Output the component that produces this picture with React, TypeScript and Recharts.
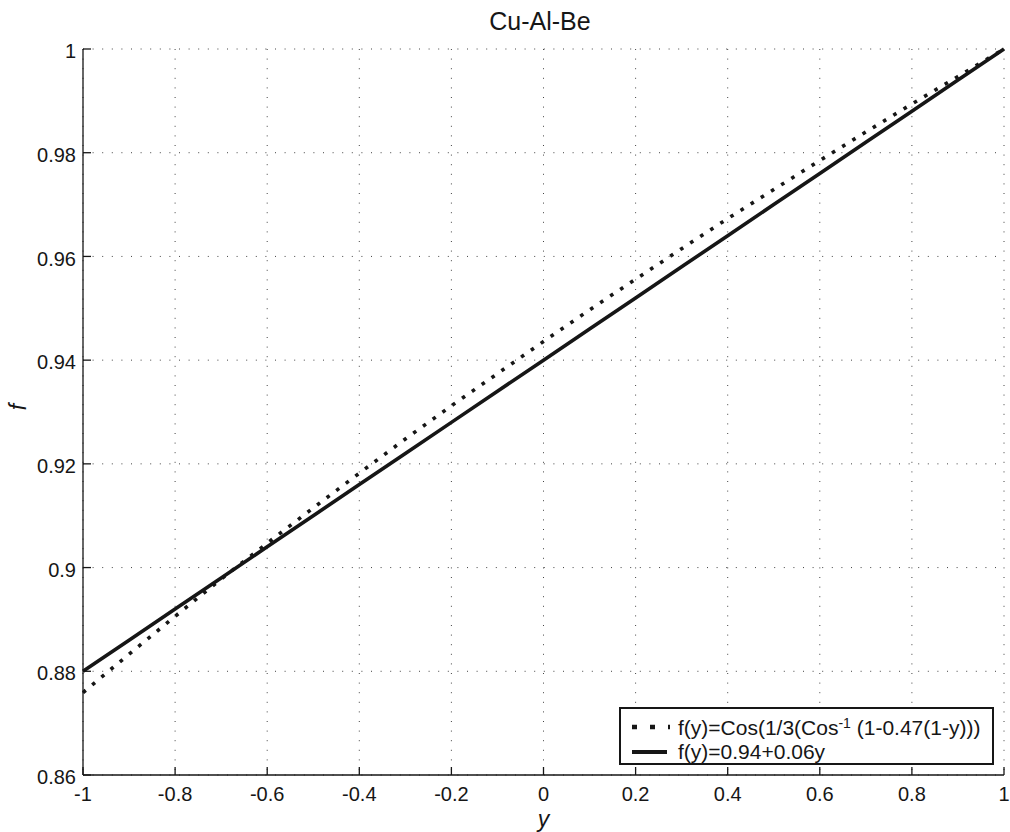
import { CartesianGrid, Legend, Line, LineChart, XAxis, YAxis } from "recharts";

const yValues = [-1, -0.9, -0.8, -0.7, -0.6, -0.5, -0.4, -0.3, -0.2, -0.1, 0, 0.1, 0.2, 0.3, 0.4, 0.5, 0.6, 0.7, 0.8, 0.9, 1];
const fCos = [0.8759, 0.8833, 0.8906, 0.8978, 0.9047, 0.9115, 0.9182, 0.9248, 0.9312, 0.9374, 0.9436, 0.9497, 0.9556, 0.9615, 0.9673, 0.9729, 0.9785, 0.984, 0.9894, 0.9947, 1.0];
const fLinear = [0.88, 0.886, 0.892, 0.898, 0.904, 0.91, 0.916, 0.922, 0.928, 0.934, 0.94, 0.946, 0.952, 0.958, 0.964, 0.97, 0.976, 0.982, 0.988, 0.994, 1.0];

const xTicks = [-1, -0.8, -0.6, -0.4, -0.2, 0, 0.2, 0.4, 0.6, 0.8, 1];
const yTicks = [0.86, 0.88, 0.9, 0.92, 0.94, 0.96, 0.98, 1];

const data = yValues.map((y, i) => ({ y, cos: fCos[i], lin: fLinear[i] }));

const FONT = "'Liberation Sans', Arial, Helvetica, sans-serif";
const INK = "#161616";

function LegendBox() {
  const row = { display: "flex", alignItems: "center", height: 25 } as const;
  return (
    <div
      style={{
        width: 375,
        height: 58,
        boxSizing: "border-box",
        border: `2px solid ${INK}`,
        background: "#fff",
        fontFamily: FONT,
        fontSize: 21,
        color: INK,
        padding: "5px 0 0 9px",
        lineHeight: 1,
      }}
    >
      <div style={row}>
        <svg width={40} height={10}>
          <line x1={2} y1={5} x2={40} y2={5} stroke={INK} strokeWidth={4.5} strokeDasharray="5 13" />
        </svg>
        <span style={{ marginLeft: 8 }}>
          f(y)=Cos(1/3(Cos<sup style={{ fontSize: 14, verticalAlign: 7 }}>-1</sup> (1-0.47(1-y)))
        </span>
      </div>
      <div style={row}>
        <svg width={40} height={10}>
          <line x1={2} y1={5} x2={37} y2={5} stroke={INK} strokeWidth={4} />
        </svg>
        <span style={{ marginLeft: 8 }}>f(y)=0.94+0.06y</span>
      </div>
    </div>
  );
}

export default function App() {
  return (
    <div style={{ position: "absolute", left: 0, top: 0, background: "#fff" }}>
      <LineChart width={1010} height={832} data={data} margin={{ top: 49, right: 6, left: 8, bottom: 0 }}>
        <CartesianGrid stroke="#444" strokeDasharray="1 8.6" strokeWidth={1} />
        <XAxis
          dataKey="y"
          type="number"
          domain={[-1, 1]}
          ticks={xTicks}
          height={57}
          tickSize={-8}
          tickMargin={20}
          axisLine={{ stroke: INK, strokeWidth: 1.3 }}
          tickLine={{ stroke: INK, strokeWidth: 1.3 }}
          tick={{ fill: INK, fontSize: 20, fontFamily: FONT }}
          label={{ value: "y", position: "insideBottom", offset: 5, fill: INK, fontSize: 23, fontStyle: "italic", fontFamily: FONT }}
        />
        <YAxis
          type="number"
          domain={[0.86, 1]}
          ticks={yTicks}
          width={75}
          tickSize={-8}
          tickMargin={15}
          axisLine={{ stroke: INK, strokeWidth: 1.3 }}
          tickLine={{ stroke: INK, strokeWidth: 1.3 }}
          tick={{ fill: INK, fontSize: 20, fontFamily: FONT, dy: 2 }}
        />
        <Line
          dataKey="cos"
          name="f(y)=Cos(1/3(Cos-1 (1-0.47(1-y)))"
          stroke={INK}
          strokeWidth={3.6}
          strokeDasharray="3.6 8.4"
          dot={false}
          isAnimationActive={false}
        />
        <Line dataKey="lin" name="f(y)=0.94+0.06y" stroke={INK} strokeWidth={3.6} dot={false} isAnimationActive={false} />
        <Legend
          layout="vertical"
          align="center"
          verticalAlign="middle"
          content={() => <LegendBox />}
          wrapperStyle={{ left: 619, top: 707, width: 375, height: 58 }}
        />
        <text x={540} y={30} textAnchor="middle" fontFamily={FONT} fontSize={25} fill={INK}>
          Cu-Al-Be
        </text>
        <text x={26} y={407} textAnchor="middle" fontFamily={FONT} fontSize={23} fontStyle="italic" fill={INK} transform="rotate(-90, 26, 407)">
          f
        </text>
      </LineChart>
    </div>
  );
}
